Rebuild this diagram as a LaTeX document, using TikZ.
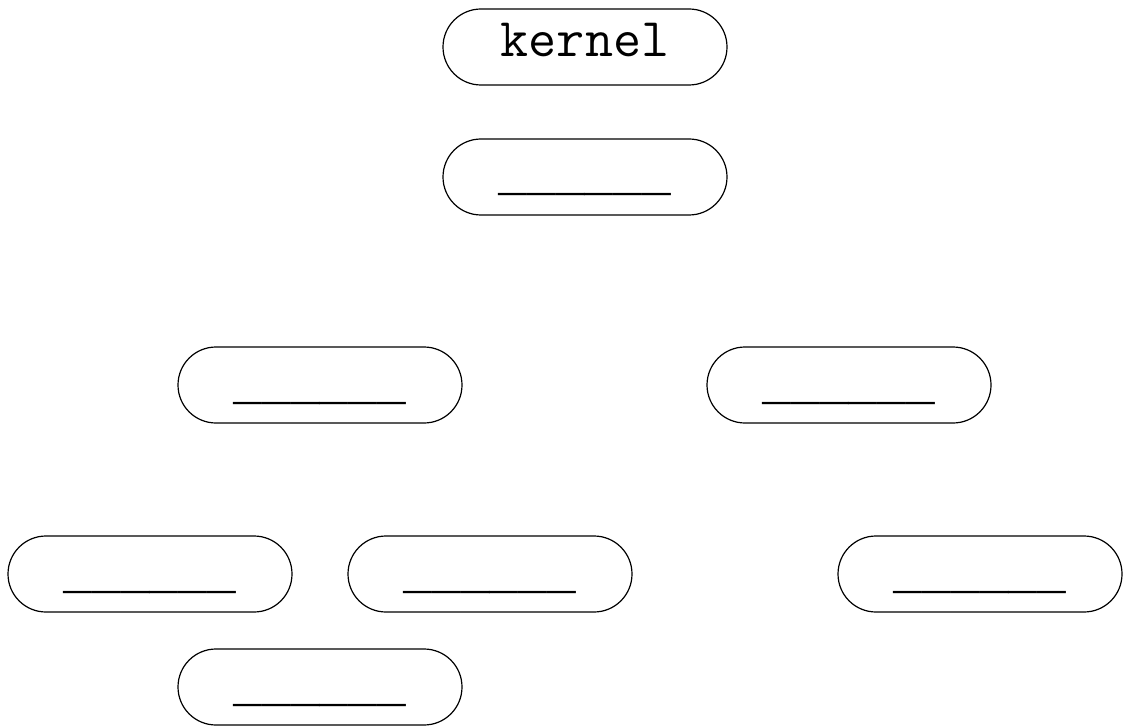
\documentclass[tikz,border=0pt]{standalone}
\usepackage{fontspec}
\newfontfamily\blankfont{Liberation Mono}
\begin{document}
\begin{tikzpicture}[x=1pt,y=-1pt,
  pill/.style={draw=black, line width=1.2pt, rectangle, rounded corners=38pt,
    minimum width=284pt, minimum height=76pt, inner sep=0pt,
    text height=30pt, text depth=10pt,
    font=\fontsize{54.5}{60}\selectfont\ttfamily},
  blank/.style={pill, text height=34pt, text depth=6pt,
    font=\fontsize{48}{56}\selectfont\blankfont}]
\useasboundingbox (0,0) rectangle (1123,727);
\node[pill] (kernel) at (585,47) {kernel};
\node[blank] (b1) at (585,177) {\_\_\_\_\_\_};
\node[blank] (c1) at (320,385) {\_\_\_\_\_\_};
\node[blank] (c2) at (849,385) {\_\_\_\_\_\_};
\node[blank] (d1) at (150,574) {\_\_\_\_\_\_};
\node[blank] (d2) at (490,574) {\_\_\_\_\_\_};
\node[blank] (d3) at (980,574) {\_\_\_\_\_\_};
\node[blank] (e1) at (320,687) {\_\_\_\_\_\_};
\end{tikzpicture}
\end{document}
